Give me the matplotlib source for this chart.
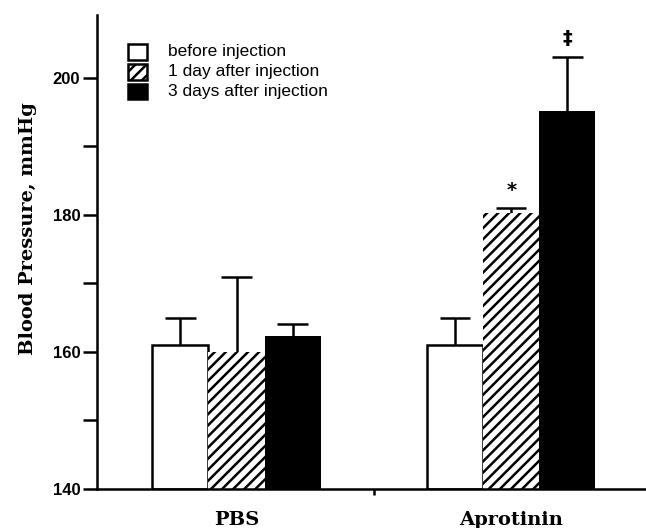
import matplotlib
matplotlib.use("Agg")
import matplotlib.pyplot as plt
import numpy as np
from matplotlib.patches import Rectangle

groups = ["PBS", "Aprotinin"]
series = ["before injection", "1 day after injection", "3 days after injection"]
before = [161, 161]
day1 = [160, 180.2]
day3 = [162.3, 195.1]
err_before = [4, 4]
err_day1 = [11, 0.8]
err_day3 = [1.7, 8]
marks = [["", "", ""], ["", "*", "‡"]]

plt.rcParams['hatch.linewidth'] = 1.8
fig = plt.figure(figsize=(6.46, 5.28), dpi=100)
ax = fig.add_axes([0.150, 0.074, 0.85, 0.898])

x = np.arange(len(groups))
w = 0.204
vals = [before, day1, day3]
errs = [err_before, err_day1, err_day3]
styles = [dict(color="white", edgecolor="black", linewidth=1.8),
          dict(color="white", edgecolor="black", hatch="///", linewidth=0),
          dict(color="black", edgecolor="black", linewidth=0)]
cap = 0.055
for i, (v, e, st) in enumerate(zip(vals, errs, styles)):
    pos = x + (i - 1) * w
    v = np.array(v); e = np.array(e)
    ax.bar(pos, v - 140, bottom=140, width=w, zorder=2, **st)
    ax.vlines(pos, v, v + e, colors="black", linewidth=1.8, zorder=1)
    ax.hlines(v + e, pos - cap, pos + cap, colors="black", linewidth=1.8, zorder=1)
    for j in range(len(groups)):
        m = marks[j][i]
        if m:
            ax.text(pos[j], v[j] + e[j] + 1.2, m, ha="center", va="bottom",
                    fontsize=14, fontweight="bold", family="DejaVu Sans")

ax.set_ylim(140, 209.2)
ax.set_xlim(-0.508, 1.49)
ax.set_yticks([140, 160, 180, 200])
ax.set_yticks([150, 170, 190], minor=True)
ax.set_yticklabels(["140", "160", "180", "200"], fontsize=12, family="Liberation Sans", fontweight="bold")
ax.tick_params(axis="y", which="both", direction="out", length=10, width=1.8, pad=2)
ax.set_xticks([0.5])
ax.set_xticklabels([""])
ax.tick_params(axis="x", direction="out", length=4, width=1.8)
for sp in ["top", "right"]:
    ax.spines[sp].set_visible(False)
for sp in ["left", "bottom"]:
    ax.spines[sp].set_linewidth(1.8)

for j, g in enumerate(groups):
    ax.text(x[j], 135.5, g, ha="center", va="center", fontsize=14, fontweight="bold",
            family="DejaVu Serif")

ax.set_ylabel("Blood Pressure, mmHg", fontsize=14, fontweight="bold", family="DejaVu Serif")
ax.yaxis.set_label_coords(-0.109, 0.55)

# legend
leg_y = [203.8, 200.9, 198.0]
for k, (lab, st) in enumerate(zip(series, styles)):
    fc = st["color"]
    r = Rectangle((-0.395, leg_y[k] - 1.15), 0.07, 2.3, facecolor=fc, edgecolor="black",
                  linewidth=1.8, hatch=st.get("hatch"), zorder=3)
    ax.add_patch(r)
    ax.text(-0.25, leg_y[k], lab, ha="left", va="center", fontsize=12.5,
            family="Liberation Sans")

fig.savefig("out.png", dpi=100)
